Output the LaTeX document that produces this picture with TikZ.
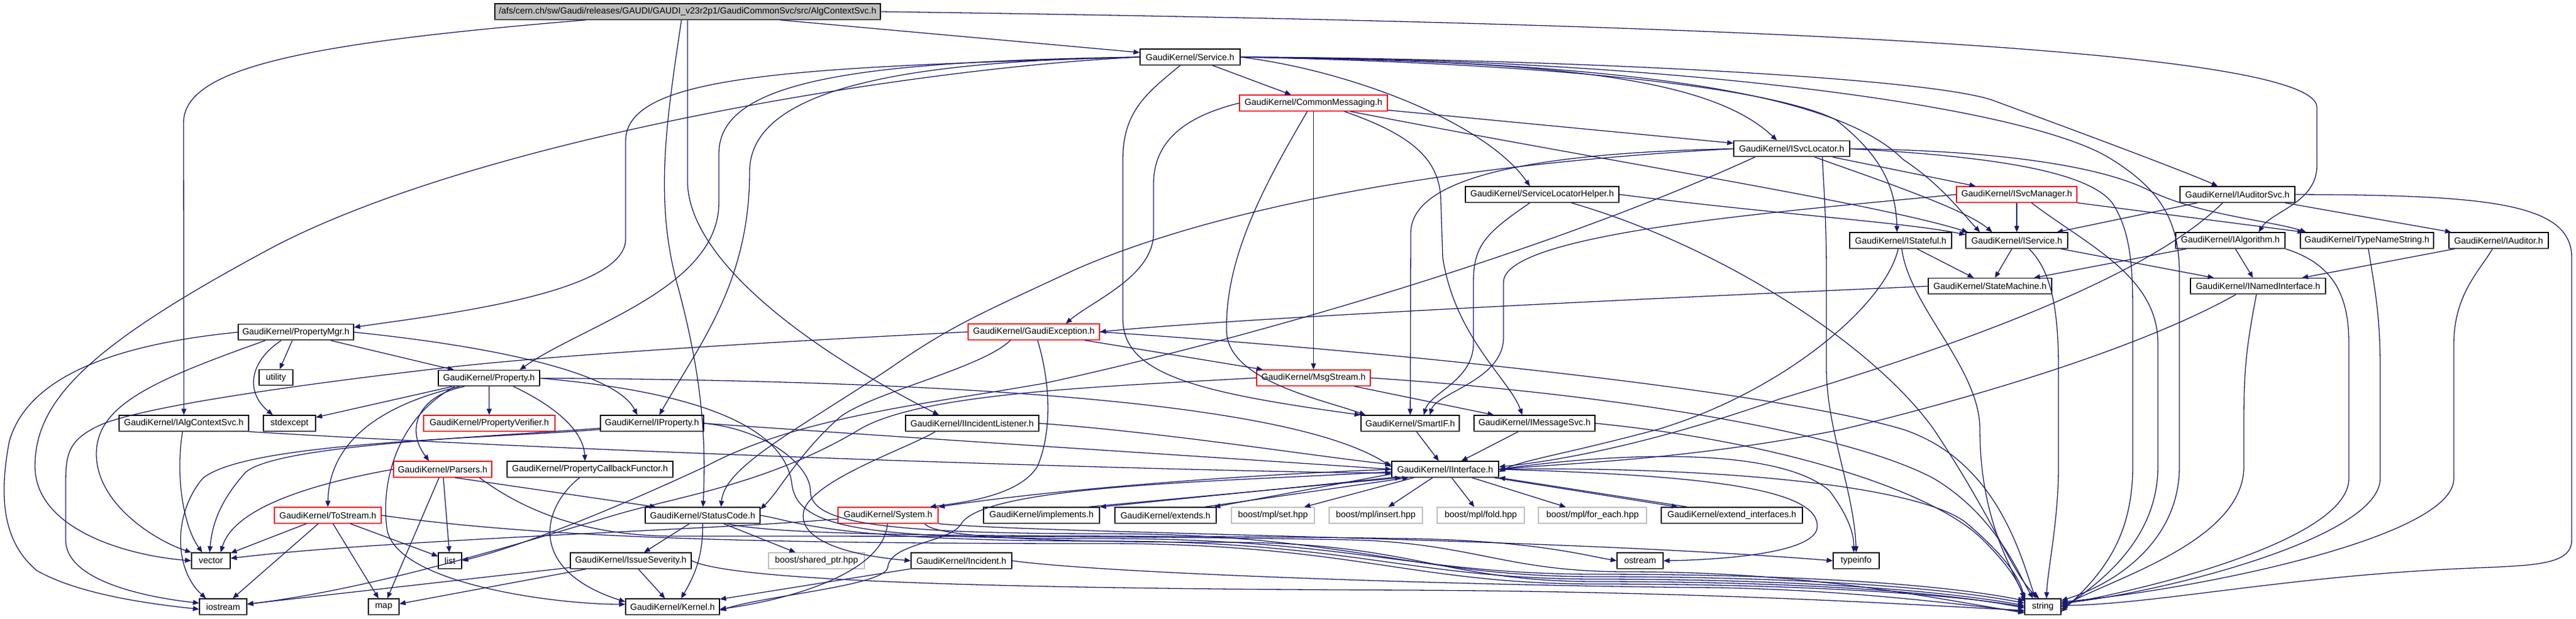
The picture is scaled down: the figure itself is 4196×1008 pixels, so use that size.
\documentclass[tikz,border=0pt]{standalone}
\usepackage{fontspec}
\setmainfont{Liberation Sans}
\usetikzlibrary{arrows.meta}
\definecolor{edgec}{HTML}{191970}
\definecolor{lgray}{HTML}{BFBFBF}
\definecolor{topfill}{HTML}{BFBFBF}
\begin{document}
\begin{tikzpicture}[x=0.5pt,y=-0.5pt,
  box/.style={draw=black,line width=0.6pt,fill=white,inner sep=0pt,minimum height=13pt,font=\fontsize{7.2}{8}\selectfont},
  rbox/.style={box,draw=red},
  gbox/.style={box,draw=lgray},
  e/.style={draw=edgec,line width=0.65pt,-{Triangle[length=5pt,width=4pt]}}]
\useasboundingbox (0,0) rectangle (4196,1008);
% ---------------- nodes
\node[box,fill=topfill,minimum width=314pt] (T) at (1120,19) {/afs/cern.ch/sw/Gaudi/releases/GAUDI/GAUDI\_v23r2p1/GaudiCommonSvc/src/AlgContextSvc.h};
\node[box,minimum width=81.5pt] (S) at (1938.5,93) {GaudiKernel/Service.h};
\node[rbox,minimum width=120.5pt] (CM) at (2139.5,168) {GaudiKernel/CommonMessaging.h};
\node[box,minimum width=94.5pt] (ISL) at (2918.5,242.5) {GaudiKernel/ISvcLocator.h};
\node[box,minimum width=125pt] (SLH) at (2512,317) {GaudiKernel/ServiceLocatorHelper.h};
\node[rbox,minimum width=98pt] (ISM) at (3285,317) {GaudiKernel/ISvcManager.h};
\node[box,minimum width=93.5pt] (IAS) at (3644.5,317) {GaudiKernel/IAuditorSvc.h};
\node[box,minimum width=83pt] (IST) at (3096,392) {GaudiKernel/IStateful.h};
\node[box,minimum width=83pt] (ISV) at (3285,392) {GaudiKernel/IService.h};
\node[box,minimum width=89pt] (IALG) at (3633,392) {GaudiKernel/IAlgorithm.h};
\node[box,minimum width=108.5pt] (TNS) at (3855.5,392) {GaudiKernel/TypeNameString.h};
\node[box,minimum width=81pt] (IAUD) at (4070,392) {GaudiKernel/IAuditor.h};
\node[box,minimum width=100.5pt] (SM) at (3241.5,466.5) {GaudiKernel/StateMachine.h};
\node[box,minimum width=110pt] (INI) at (3678,466.5) {GaudiKernel/INamedInterface.h};
\node[box,minimum width=94pt] (PM) at (482,541.5) {GaudiKernel/PropertyMgr.h};
\node[rbox,minimum width=107pt] (GE) at (1684,541) {GaudiKernel/GaudiException.h};
\node[box,minimum width=27.5pt] (UT) at (449.5,615.5) {utility};
\node[box,minimum width=82.5pt] (PR) at (796.5,616.5) {GaudiKernel/Property.h};
\node[rbox,minimum width=92.5pt] (MS) at (2139.5,616) {GaudiKernel/MsgStream.h};
\node[box,minimum width=105.5pt] (IACS) at (299.5,690) {GaudiKernel/IAlgContextSvc.h};
\node[box,minimum width=42.5pt] (SE) at (471.5,690) {stdexcept};
\node[rbox,minimum width=107pt] (PV) at (797,690) {GaudiKernel/PropertyVerifier.h};
\node[box,minimum width=84pt] (IPR) at (1062,690) {GaudiKernel/IProperty.h};
\node[box,minimum width=108.5pt] (IL) at (1583.5,690) {GaudiKernel/IIncidentListener.h};
\node[box,minimum width=80pt] (SIF) at (2297,690) {GaudiKernel/SmartIF.h};
\node[box,minimum width=98.5pt] (IMS) at (2499.5,690) {GaudiKernel/IMessageSvc.h};
\node[rbox,minimum width=80pt] (PA) at (721,765) {GaudiKernel/Parsers.h};
\node[box,minimum width=135pt] (PCF) at (961,765) {GaudiKernel/PropertyCallbackFunctor.h};
\node[box,minimum width=87pt] (II) at (2354,765) {GaudiKernel/IInterface.h};
\node[rbox,minimum width=87pt] (TS) at (534,840) {GaudiKernel/ToStream.h};
\node[box,minimum width=93.5pt] (SC) at (1144.5,840) {GaudiKernel/StatusCode.h};
\node[rbox,minimum width=81.5pt] (SYS) at (1446.5,840) {GaudiKernel/System.h};
\node[box,minimum width=94.5pt] (IMP) at (1696.5,840) {GaudiKernel/implements.h};
\node[box,minimum width=82.5pt] (EXT) at (1898.5,840) {GaudiKernel/extends.h};
\node[gbox,minimum width=67.5pt] (MSET) at (2073.5,840) {boost/mpl/set.hpp};
\node[gbox,minimum width=76pt] (MINS) at (2241,840) {boost/mpl/insert.hpp};
\node[gbox,minimum width=71pt] (MFOLD) at (2412,840) {boost/mpl/fold.hpp};
\node[gbox,minimum width=88pt] (MFE) at (2594,840) {boost/mpl/for\_each.hpp};
\node[box,minimum width=115pt] (EI) at (2821,840) {GaudiKernel/extend\_interfaces.h};
\node[box,minimum width=31.5pt] (VEC) at (343.5,914) {vector};
\node[box,minimum width=19pt] (LIST) at (733,914) {list};
\node[box,minimum width=98.5pt] (ISEV) at (1027.5,914) {GaudiKernel/IssueSeverity.h};
\node[gbox,minimum width=78pt] (SP) at (1330,914) {boost/shared\_ptr.hpp};
\node[box,minimum width=82pt] (INC) at (1566,914) {GaudiKernel/Incident.h};
\node[box,minimum width=37.5pt] (OST) at (2671.5,914) {ostream};
\node[box,minimum width=37.5pt] (TI) at (3023.5,914) {typeinfo};
\node[box,minimum width=38.5pt] (IOS) at (363.5,989) {iostream};
\node[box,minimum width=25pt] (MAP) at (625,989) {map};
\node[box,minimum width=76.5pt] (KER) at (1095.5,989) {GaudiKernel/Kernel.h};
\node[box,minimum width=29.5pt] (STR) at (3327.5,989) {string};
% shaded lower edges of the boxes
\foreach \n in {T,S,ISL,SLH,IAS,IST,ISV,IALG,TNS,IAUD,SM,INI,PM,UT,PR,IACS,SE,IPR,IL,SIF,IMS,PCF,II,SC,IMP,EXT,EI,VEC,LIST,ISEV,INC,OST,TI,IOS,MAP,KER,STR}
  \draw[line width=1pt,black!70] ([yshift=0.35pt]\n.south west) -- ([yshift=0.35pt]\n.south east);
\foreach \n in {CM,ISM,GE,MS,PV,PA,TS,SYS}
  \draw[line width=1pt,red!80] ([yshift=0.35pt]\n.south west) -- ([yshift=0.35pt]\n.south east);
\foreach \n in {MSET,MINS,MFOLD,MFE,SP}
  \draw[line width=1pt,lgray] ([yshift=0.35pt]\n.south west) -- ([yshift=0.35pt]\n.south east);
% ---------------- edges from top
\draw[e] (T) -- (S);
\draw[e] (T) .. controls (500,70) and (299,110) .. (299,200) -- (IACS);
\draw[e] ([xshift=-5pt]T.south) .. controls (1085,200) and (1065,330) .. (1105,470) .. controls (1145,620) and (1150,720) .. (SC);
\draw[e] (T.south) -- (1120,300) .. controls (1125,420) and (1300,560) .. ([xshift=-27pt]IL.north);
\draw[e] (T.east) .. controls (2600,35) and (3774,70) .. (3774,175) -- (3774,270) .. controls (3774,330) and (3700,345) .. ([xshift=23pt]IALG.north);
% ---------------- Service
\draw[e] (S) -- (CM);
\draw[e] (S.west) .. controls (1300,110) and (1019,120) .. (1019,230) -- (1019,390) .. controls (1019,480) and (700,515) .. ([yshift=4pt]PM.east);
\draw[e] (S.west) .. controls (1400,100) and (1171,130) .. (1171,250) -- (1171,330) .. controls (1171,470) and (950,530) .. ([xshift=25pt]PR.north);
\draw[e] (S.west) .. controls (1450,100) and (1221,150) .. (1221,280) .. controls (1221,460) and (1140,560) .. ([xshift=6pt]IPR.north);
\draw[e] (S.west) .. controls (1500,110) and (800,220) .. (450,400) .. controls (150,560) and (57,650) .. (57,760) .. controls (57,860) and (200,905) .. (VEC.west);
\draw[e] ([xshift=-8pt]S.south) .. controls (1870,150) and (1829,180) .. (1829,260) -- (1829,520) .. controls (1829,610) and (1950,640) .. (SIF.north west);
\draw[e] (S.east) .. controls (2200,115) and (2420,200) .. ([xshift=-10pt]SLH.north);
\draw[e] (S.east) .. controls (2500,100) and (2780,120) .. ([xshift=-12pt]ISL.north);
\draw[e] (S.east) .. controls (2600,105) and (2900,150) .. (2990,195) .. controls (3060,250) and (3088,300) .. ([xshift=-3pt]IST.north);
\draw[e] (S.east) .. controls (2700,100) and (3000,160) .. (3100,260) .. controls (3160,300) and (3190,340) .. ([xshift=-30pt]ISV.north);
\draw[e] (S.east) .. controls (2500,95) and (3150,125) .. (3250,165) .. controls (3400,220) and (3560,280) .. ([xshift=-16pt]IAS.north);
\draw[e] (S.east) .. controls (2700,95) and (3300,170) .. (3440,260) .. controls (3520,310) and (3548,360) .. (3550,440) -- (3550,760) .. controls (3550,880) and (3450,950) .. ([yshift=5pt]STR.east);
% ---------------- CommonMessaging
\draw[e] (CM) -- (ISL);
\draw[e] (CM.west) .. controls (1930,190) and (1879,230) .. (1879,300) -- (1879,380) .. controls (1879,450) and (1780,490) .. ([xshift=26pt]GE.north);
\draw[e] (CM) -- (MS);
\draw[e] ([xshift=-5pt]CM.south) .. controls (2060,300) and (1995,420) .. (1998,540) .. controls (2000,620) and (2150,650) .. ([xshift=4pt]SIF.north west);
\draw[e] ([xshift=25pt]CM.south) .. controls (2300,220) and (2347,260) .. (2347,330) -- (2350,420) .. controls (2370,550) and (2460,620) .. ([xshift=-10pt]IMS.north);
\draw[e] ([xshift=30pt]CM.south) .. controls (2600,260) and (3050,330) .. ([xshift=2pt]ISV.north west);
% ---------------- ISvcLocator
\draw[e] (ISL) -- (ISM);
\draw[e] (ISL.east) .. controls (3250,245) and (3420,270) .. (3500,310) .. controls (3580,350) and (3700,360) .. ([xshift=5pt]TNS.north west);
\draw[e] (ISL.east) .. controls (3250,255) and (3400,280) .. (3440,330) .. controls (3474,380) and (3474,450) .. (3474,520) -- (3474,760) .. controls (3474,880) and (3420,940) .. ([yshift=-4pt]STR.east);
\draw[e] (ISL) .. controls (3050,290) and (3200,340) .. ([xshift=-20pt]ISV.north);
\draw[e] (ISL.west) .. controls (2450,250) and (2298,300) .. (2298,380) -- (SIF);
\draw[e] (ISL.west) .. controls (2400,265) and (2000,330) .. (1750,440) .. controls (1600,510) and (1550,530) .. (1450,600) .. controls (1300,700) and (1180,760) .. ([xshift=15pt]SC.north);
\draw[e] ([xshift=-30pt]ISL.south) .. controls (2500,420) and (2000,560) .. (1700,625) .. controls (1500,660) and (1300,680) .. (1150,760) .. controls (1000,830) and (850,890) .. (LIST.east);
\draw[e] ([xshift=25pt]ISL.south) .. controls (2970,300) and (2975,350) .. (2975,450) -- (2975,600) .. controls (2975,700) and (3020,800) .. (TI.north);
% ---------------- ServiceLocatorHelper
\draw[e] ([xshift=-10pt]SLH.south) .. controls (2420,380) and (2400,400) .. (2400,460) -- (2400,560) .. controls (2400,620) and (2330,640) .. ([xshift=11pt]SIF.north);
\draw[e] (SLH.east) .. controls (2900,350) and (3100,362) .. ([yshift=-2pt]ISV.north west);
\draw[e] (SLH) .. controls (2800,400) and (3050,560) .. (3150,700) .. controls (3250,850) and (3280,940) .. ([xshift=-3pt]STR.north);
% ---------------- ISvcManager
\draw[e] (ISM) -- (ISV);
\draw[e] (ISM.south east) -- ([xshift=3pt]TNS.north west);
\draw[e] ([xshift=12pt]ISM.south) .. controls (3400,400) and (3515,450) .. (3515,560) -- (3515,760) .. controls (3515,880) and (3420,950) .. ([yshift=-2pt]STR.east);
\draw[e] (ISM.west) .. controls (2900,345) and (2449,380) .. (2449,460) -- (2449,550) .. controls (2449,620) and (2340,640) .. ([xshift=16pt]SIF.north);
% ---------------- IAuditorSvc
\draw[e] (IAS) -- (ISV);
\draw[e] (IAS) -- (IAUD);
\draw[e] ([xshift=-12pt]IAS.south) .. controls (3500,450) and (3200,560) .. (2900,650) .. controls (2700,720) and (2550,750) .. ([yshift=2pt]II.east);
\draw[e] (IAS.east) .. controls (4050,318) and (4189,330) .. (4189,420) -- (4189,880) .. controls (4189,930) and (4100,920) .. (3950,930) .. controls (3700,945) and (3500,985) .. ([yshift=1pt]STR.east);
% ---------------- IStateful / IService / IAlgorithm / ...
\draw[e] (IST) -- (SM);
\draw[e] (IST) .. controls (3110,500) and (3225,600) .. (3225,700) .. controls (3225,850) and (3280,930) .. (STR.north west);
\draw[e] ([xshift=-2pt]IST.south) .. controls (3070,500) and (2900,640) .. (2700,700) .. controls (2550,740) and (2480,750) .. ([yshift=-2pt]II.east);
\draw[e] (ISV) -- (SM);
\draw[e] (ISV) -- (INI);
\draw[e] ([xshift=10pt]ISV.south) .. controls (3340,440) and (3353,500) .. (3353,600) -- (3353,760) .. controls (3353,850) and (3335,930) .. ([xshift=3pt]STR.north);
\draw[e] (IALG) -- (SM);
\draw[e] (IALG) -- (INI);
\draw[e] (IALG.south east) .. controls (3800,430) and (3826,480) .. (3826,560) -- (3826,780) .. controls (3826,880) and (3500,960) .. ([yshift=2pt]STR.east);
\draw[e] (TNS) .. controls (3870,480) and (3877,520) .. (3877,600) -- (3877,780) .. controls (3877,880) and (3500,970) .. ([yshift=3pt]STR.east);
\draw[e] (IAUD) -- (INI);
\draw[e] ([xshift=-5pt]IAUD.south) .. controls (4040,440) and (3997,480) .. (3997,560) -- (3997,780) .. controls (3997,880) and (3550,965) .. ([yshift=4pt]STR.east);
\draw[e] (INI) .. controls (3660,560) and (3655,600) .. (3655,680) -- (3655,760) .. controls (3655,880) and (3450,940) .. ([yshift=0pt]STR.east);
\draw[e] ([xshift=-18pt]INI.south) .. controls (3500,560) and (3250,640) .. (3000,700) .. controls (2750,750) and (2550,755) .. (II.east);
\draw[e] (SM.west) .. controls (2600,490) and (2000,520) .. (GE.east);
% ---------------- GaudiException
\draw[e] (GE) -- (MS);
\draw[e] (GE.east) .. controls (2300,575) and (2900,640) .. (3100,700) .. controls (3250,750) and (3290,900) .. ([xshift=-6pt]STR.north);
\draw[e] ([xshift=3pt]GE.south) .. controls (1710,620) and (1715,700) .. (1690,760) .. controls (1660,810) and (1560,820) .. ([xshift=-7pt]SYS.north east);
\draw[e] (GE.west) .. controls (1200,560) and (900,580) .. (737,598) .. controls (500,625) and (250,660) .. (170,690) .. controls (110,715) and (107,740) .. (107,790) -- (107,880) .. controls (107,950) and (250,975) .. ([yshift=3pt]IOS.west);
\draw[e] ([xshift=-19pt]GE.south) .. controls (1600,600) and (1420,640) .. (1368,680) .. controls (1300,740) and (1270,800) .. ([yshift=5pt]SC.east);
% ---------------- MsgStream, IMessageSvc, SmartIF
\draw[e] (MS) -- (IMS);
\draw[e] (MS.west) .. controls (1800,630) and (1500,640) .. (1400,700) .. controls (1250,790) and (1100,810) .. (1000,840) .. controls (800,900) and (600,960) .. ([yshift=2pt]IOS.east);
\draw[e] (MS.east) .. controls (2600,640) and (3000,700) .. (3150,780) .. controls (3250,840) and (3285,930) .. ([xshift=-8pt]STR.north);
\draw[e] (IMS) -- (II);
\draw[e] (IMS.east) .. controls (2900,720) and (3150,800) .. (3230,880) .. controls (3270,920) and (3290,950) .. ([yshift=-3pt]STR.north west);
\draw[e] (SIF) -- (II);
% ---------------- IInterface
\draw[e] (II) -- (MSET);
\draw[e] (II) -- (MINS);
\draw[e] (II) -- (MFOLD);
\draw[e] (II) -- (MFE);
\draw[e] ([xshift=-4pt]II.south east) -- ([xshift=-44pt]EI.north);
\draw[e] ([xshift=-36pt]EI.north) -- (II.south east);
\draw[e] (II.south west) -- (IMP.north east);
\draw[e] ([xshift=-10pt]IMP.north east) -- ([xshift=8pt]II.south west);
\draw[e] ([yshift=3pt]II.south west) -- ([xshift=-2pt]EXT.north east);
\draw[e] ([xshift=-10pt]EXT.north east) -- ([xshift=14pt]II.south west);
\draw[e] (II.west) .. controls (2000,775) and (1700,800) .. (SYS.north east);
\draw[e] (II.east) .. controls (2800,775) and (2965,800) .. (2960,860) .. controls (2955,905) and (2780,913) .. (OST.east);
\draw[e] (II.east) .. controls (2650,735) and (2900,730) .. (2980,800) .. controls (3010,840) and (3020,870) .. ([xshift=-2pt]TI.north);
\draw[e] (II.east) .. controls (2700,760) and (3100,780) .. (3200,850) .. controls (3260,900) and (3290,940) .. ([yshift=-1pt]STR.north west);
\draw[e] ([yshift=-2pt]II.west) .. controls (2000,785) and (1600,790) .. (1565,855) .. controls (1545,885) and (1450,885) .. (1446,925) .. controls (1440,955) and (1250,970) .. ([yshift=-3pt]KER.east);
% ---------------- PropertyMgr
\draw[e] (PM) -- (UT);
\draw[e] (PM) -- (PR);
\draw[e] ([xshift=-12pt]PM.south) .. controls (405,590) and (400,640) .. ([xshift=8pt]SE.north west);
\draw[e] (PM.east) .. controls (760,560) and (1000,600) .. ([xshift=-12pt]IPR.north);
\draw[e] ([xshift=-25pt]PM.south) .. controls (250,620) and (157,660) .. (157,740) .. controls (157,820) and (250,880) .. (VEC.north west);
\draw[e] (PM.west) .. controls (150,565) and (40,630) .. (15,720) .. controls (0,800) and (0,880) .. (60,930) .. controls (130,970) and (250,985) .. ([yshift=-2pt]IOS.west);
% ---------------- Property
\draw[e] (PR) -- (SE);
\draw[e] (PR) -- (PV);
\draw[e] ([xshift=-20pt]PR.south) .. controls (680,645) and (660,700) .. ([xshift=-11pt]PA.north);
\draw[e] ([xshift=-24pt]PR.south) .. controls (620,660) and (536,720) .. (TS.north);
\draw[e] ([xshift=20pt]PR.south) .. controls (900,660) and (950,700) .. ([xshift=-4pt]PCF.north);
\draw[e] ([xshift=-28pt]PR.south) .. controls (650,680) and (620,780) .. (630,860) .. controls (640,950) and (900,985) .. ([yshift=2pt]KER.west);
\draw[e] (PR.east) .. controls (1500,620) and (2100,650) .. ([yshift=2pt]II.west);
\draw[e] (PR.east) .. controls (1150,640) and (1280,700) .. (1290,790) .. controls (1300,860) and (1400,878) .. (1800,878) .. controls (2200,878) and (2300,936) .. (2600,936) .. controls (2900,936) and (3150,950) .. ([yshift=5pt]STR.west);
% ---------------- IAlgContextSvc, IProperty, PCF
\draw[e] (IACS) .. controls (285,780) and (300,860) .. ([xshift=-7pt]VEC.north);
\draw[e] (IACS.south east) .. controls (1000,740) and (2000,770) .. ([yshift=-3pt]II.west);
\draw[e] ([yshift=-4pt]IPR.west) .. controls (800,712) and (450,725) .. (400,770) .. controls (355,820) and (345,860) .. ([xshift=-1pt]VEC.north);
\draw[e] ([yshift=-5pt]IPR.west) .. controls (800,715) and (400,720) .. (330,780) .. controls (280,840) and (285,930) .. ([xshift=-14pt]IOS.north);
\draw[e] (IPR.east) .. controls (1500,715) and (2050,750) .. (II.west);
\draw[e] (IPR.east) .. controls (1250,700) and (1320,760) .. (1320,800) .. controls (1320,850) and (1420,870) .. (1800,870) .. controls (2200,870) and (2300,940) .. (2600,940) .. controls (2900,940) and (3150,955) .. ([yshift=3pt]STR.west);
\draw[e] (PCF) .. controls (880,830) and (860,930) .. ([yshift=4pt]KER.west);
% ---------------- Parsers
\draw[e] (PA.west) .. controls (500,790) and (380,830) .. ([xshift=8pt]VEC.north);
\draw[e] (PA) -- (LIST);
\draw[e] (PA) -- (MAP);
\draw[e] ([xshift=10pt]PA.south) -- ([xshift=-38pt]SC.north);
\draw[e] ([xshift=30pt]PA.south) .. controls (850,830) and (950,874) .. (1100,874) .. controls (1500,874) and (1900,874) .. (2200,880) .. controls (2400,885) and (2450,932) .. (2650,932) .. controls (2950,932) and (3150,975) .. ([yshift=-5pt]STR.west);
% ---------------- ToStream
\draw[e] (TS) -- (VEC);
\draw[e] (TS) -- (IOS);
\draw[e] (TS) -- (MAP);
\draw[e] (TS) -- (LIST);
\draw[e] (TS.east) .. controls (900,880) and (1300,886) .. (1800,886) .. controls (2200,886) and (2300,952) .. (2600,952) .. controls (2900,952) and (3150,965) .. ([yshift=0pt]STR.west);
% ---------------- StatusCode
\draw[e] (SC) -- (ISEV);
\draw[e] (SC) -- (SP);
\draw[e] (SC) .. controls (1145,910) and (1130,940) .. ([xshift=7pt]KER.north);
\draw[e] ([xshift=20pt]SC.south) .. controls (1300,880) and (1800,870) .. (2300,878) .. controls (2500,882) and (2580,905) .. (OST.west);
\draw[e] (SC.east) .. controls (1300,850) and (1350,882) .. (1800,882) .. controls (2200,882) and (2300,944) .. (2600,944) .. controls (2900,944) and (3150,960) .. ([yshift=1pt]STR.west);
% ---------------- IssueSeverity
\draw[e] (ISEV) -- (IOS);
\draw[e] (ISEV) -- (MAP);
\draw[e] (ISEV) -- (KER);
\draw[e] (ISEV.east) .. controls (1200,950) and (1700,960) .. (2300,962) .. controls (2800,965) and (3100,985) .. ([yshift=-3pt]STR.west);
% ---------------- System
\draw[e] (SYS) .. controls (1440,930) and (1300,975) .. ([yshift=-2pt]KER.east);
\draw[e] ([yshift=-3pt]SYS.west) .. controls (1200,860) and (900,870) .. (600,890) .. controls (480,898) and (420,905) .. ([yshift=2pt]VEC.east);
\draw[e] ([xshift=30pt]SYS.south) .. controls (1520,875) and (1700,884) .. (2000,884) .. controls (2300,884) and (2350,948) .. (2600,948) .. controls (2900,948) and (3150,962) .. ([yshift=-1pt]STR.west);
\draw[e] (SYS.south east) .. controls (1700,870) and (2500,875) .. (TI.west);
% ---------------- IncidentListener, Incident
\draw[e] ([xshift=-30pt]IL.south) .. controls (1480,730) and (1330,780) .. (1310,830) .. controls (1295,880) and (1380,905) .. (INC.west);
\draw[e] (IL.east) .. controls (1900,705) and (2150,745) .. ([yshift=4pt]II.west);
\draw[e] (INC) -- (KER);
\draw[e] (INC.east) .. controls (1800,935) and (2400,955) .. (2800,958) .. controls (3000,962) and (3150,980) .. ([yshift=-4pt]STR.west);
\end{tikzpicture}
\end{document}
